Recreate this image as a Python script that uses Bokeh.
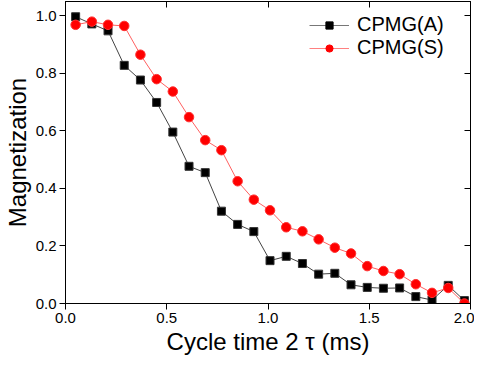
from bokeh.plotting import figure
from bokeh.models import LinearAxis, FixedTicker, PrintfTickFormatter, Range1d, Legend, LegendItem, CustomJSTickFormatter
from bokeh.embed import file_html
from bokeh.resources import INLINE

cycle_time = [0.05, 0.13, 0.21, 0.29, 0.37, 0.45, 0.53, 0.61, 0.69, 0.77, 0.85, 0.93, 1.01,
              1.09, 1.17, 1.25, 1.33, 1.41, 1.49, 1.57, 1.65, 1.73, 1.81, 1.89, 1.97]
cpmg_a = [0.997, 0.972, 0.948, 0.828, 0.777, 0.699, 0.596, 0.477, 0.455, 0.321, 0.275, 0.250, 0.149,
          0.164, 0.139, 0.102, 0.105, 0.065, 0.056, 0.053, 0.054, 0.024, 0.012, 0.063, 0.010]
cpmg_s = [0.969, 0.980, 0.969, 0.965, 0.865, 0.780, 0.737, 0.648, 0.568, 0.533, 0.425, 0.361, 0.324,
          0.265, 0.251, 0.223, 0.194, 0.174, 0.130, 0.113, 0.102, 0.067, 0.037, 0.054, 0.000]
x_ticks = [0.0, 0.5, 1.0, 1.5, 2.0]
y_ticks = [0.0, 0.2, 0.4, 0.6, 0.8, 1.0]
nan = [float("nan")]

FONT = "Liberation Sans"

p = figure(width=474, height=357, output_backend="svg", toolbar_location=None,
           x_range=Range1d(0, 2.0), y_range=Range1d(0, 1.05),
           min_border_left=56, min_border_right=4, min_border_top=1, min_border_bottom=50,
           x_axis_label="Cycle time 2 \u03c4 (ms)", y_axis_label="Magnetization")
p.grid.visible = False
p.outline_line_color = "black"
p.outline_line_width = 1

for ax in (p.xaxis[0], p.yaxis[0]):
    ax.axis_line_color = "black"
    ax.major_tick_line_color = "black"
    ax.minor_tick_line_color = None
    ax.major_tick_out = 6
    ax.major_tick_in = 0
    ax.major_label_text_font = FONT
    ax.major_label_text_font_size = "15px"
    ax.major_label_text_color = "black"
    ax.axis_label_text_font = FONT
    ax.axis_label_text_font_size = "24px"
    ax.axis_label_text_font_style = "normal"
    ax.axis_label_text_color = "black"
    ax.formatter = PrintfTickFormatter(format="%.1f")
p.xaxis[0].ticker = FixedTicker(ticks=x_ticks)
p.yaxis[0].ticker = FixedTicker(ticks=y_ticks)
p.xaxis[0].major_label_standoff = 3
p.yaxis[0].major_label_standoff = 3
p.xaxis[0].axis_label_standoff = 2
p.yaxis[0].axis_label_standoff = 2

blank = CustomJSTickFormatter(code="return ''")
top = LinearAxis(ticker=FixedTicker(ticks=x_ticks), formatter=blank,
                 major_tick_in=6, major_tick_out=0, minor_tick_line_color=None,
                 major_label_standoff=0)
right = LinearAxis(ticker=FixedTicker(ticks=y_ticks), formatter=blank,
                   major_tick_in=6, major_tick_out=0, minor_tick_line_color=None,
                   major_label_standoff=0)
p.add_layout(top, "above")
p.add_layout(right, "right")

p.line(cycle_time, cpmg_a, line_color="#444444", line_width=1)
p.scatter(cycle_time, cpmg_a, marker="square", size=8, fill_color="black", line_color="#333333")
p.line(cycle_time, cpmg_s, line_color="#ff6060", line_width=1)
p.scatter(cycle_time, cpmg_s, marker="circle", size=9.5, fill_color="red", line_color="#ff3030")

# legend-only renderers (smaller markers, as in the reference legend); NaN data draws nothing in the plot
la = p.line(nan, nan, line_color="#777777", line_width=1)
sa = p.scatter(nan, nan, marker="square", size=5, fill_color="black", line_color="black")
ls = p.line(nan, nan, line_color="#ff8080", line_width=1)
ss = p.scatter(nan, nan, marker="circle", size=6, fill_color="red", line_color="red")

legend = Legend(items=[LegendItem(label="CPMG(A)", renderers=[la, sa]),
                       LegendItem(label="CPMG(S)", renderers=[ls, ss])],
                location=(244, 244), glyph_width=40, glyph_height=18, label_standoff=8,
                label_height=18, label_text_font=FONT, label_text_font_size="20px",
                label_text_color="black", label_text_line_height=0.9,
                spacing=-4, padding=4, border_line_color=None, background_fill_alpha=0)
p.add_layout(legend, "center")

open("out.html", "w").write(file_html(p, INLINE))
